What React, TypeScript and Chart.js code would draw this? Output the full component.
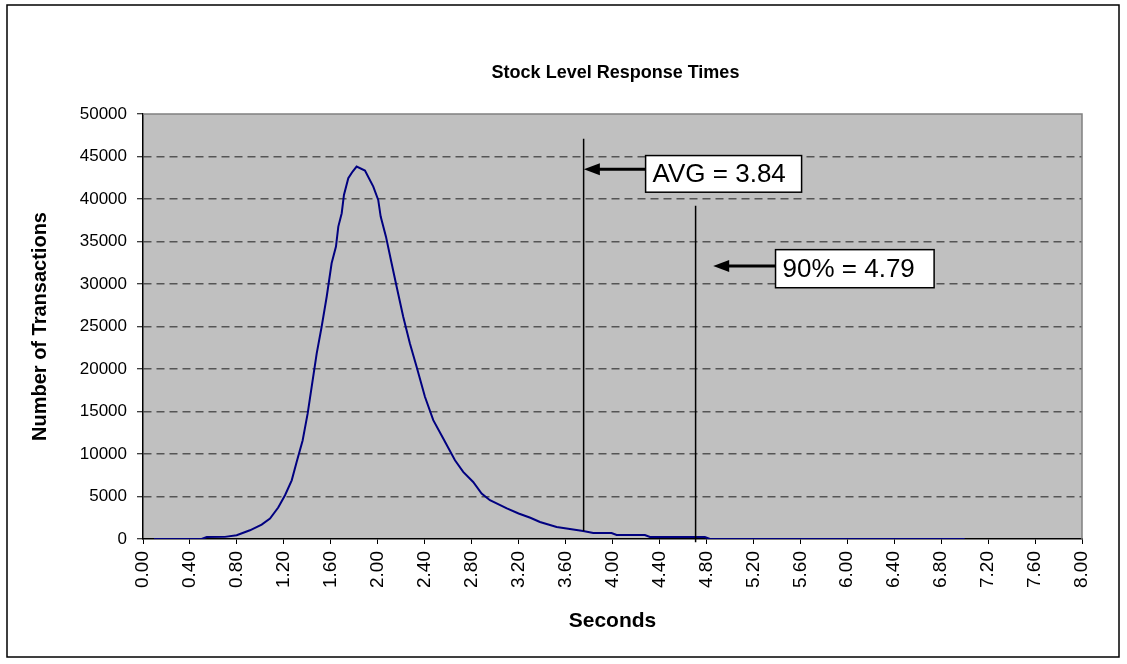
import { useEffect, useRef } from "react";
import { Chart, registerables } from "chart.js";

Chart.register(...registerables);

// ---- data ----
const chartTitle = "Stock Level Response Times";
const xAxisTitle = "Seconds";
const yAxisTitle = "Number of Transactions";

const seconds = [
  0.094, 0.5, 0.543, 0.698, 0.798, 0.911, 1.011, 1.082, 1.152, 1.21, 1.267, 1.309,
  1.36, 1.403, 1.437, 1.48, 1.522, 1.565, 1.607, 1.644, 1.664, 1.693, 1.712, 1.749,
  1.786, 1.82, 1.891, 1.962, 2.004, 2.025, 2.07, 2.118, 2.161, 2.217, 2.274, 2.331,
  2.402, 2.473, 2.558, 2.658, 2.728, 2.813, 2.885, 2.956, 3.1, 3.2, 3.3, 3.382,
  3.524, 3.75, 3.836, 3.992, 4.035, 4.276, 4.319, 4.787, 4.83, 7.0,
];
const transactions = [
  0, 0, 235, 250, 435, 1025, 1690, 2400, 3700, 5150, 6900, 9070,
  11600, 14770, 17900, 21840, 24970, 28500, 32440, 34400, 36750, 38330, 40480, 42450,
  43230, 43820, 43350, 41460, 39890, 37930, 35570, 32440, 29680, 26150, 23010, 20260,
  16730, 13980, 11820, 9270, 7890, 6710, 5350, 4560, 3600, 3000, 2500, 2000,
  1410, 940, 700, 700, 470, 470, 235, 235, 0, 0,
];

const xMin = 0;
const xMax = 8;
const xStep = 0.4;
const yMin = 0;
const yMax = 50000;
const yStep = 5000;

// annotation lines (x in seconds, y range in transactions)
const avgLabel = "AVG = 3.84";
const avgLineX = 3.754;
const avgLineYRange = [940, 47100];
const avgBoxX = [4.282, 5.611];
const avgBoxY = [40800, 45110];
const avgArrowY = 43510;
const avgArrowTipX = 3.756;

const p90Label = "90% = 4.79";
const p90LineX = 4.708;
const p90LineYRange = [-390, 39220];
const p90BoxX = [5.389, 6.74];
const p90BoxY = [29560, 34040];
const p90ArrowY = 32120;
const p90ArrowTipX = 4.858;

const FONT = "'Liberation Sans', Arial, Helvetica, sans-serif";

const framePlugin = {
  id: "frame",
  beforeDraw(chart: any) {
    const { ctx, chartArea: a, width, height } = chart;
    ctx.save();
    ctx.fillStyle = "#ffffff";
    ctx.fillRect(0, 0, width, height);
    ctx.fillStyle = "#c0c0c0";
    ctx.fillRect(a.left, a.top, a.right - a.left, a.bottom - a.top);
    ctx.strokeStyle = "#000000";
    ctx.lineWidth = 1.5;
    ctx.strokeRect(7, 5, width - 15, height - 12);
    ctx.restore();
  },
  beforeDatasetsDraw(chart: any) {
    const { ctx, chartArea: a } = chart;
    ctx.save();
    ctx.strokeStyle = "#808080";
    ctx.lineWidth = 1.5;
    ctx.beginPath();
    ctx.moveTo(a.left, a.top);
    ctx.lineTo(a.right, a.top);
    ctx.lineTo(a.right, a.bottom);
    ctx.stroke();
    ctx.restore();
  },
  afterDraw(chart: any) {
    const { ctx, chartArea: a } = chart;
    ctx.save();
    ctx.fillStyle = "#000";
    ctx.font = `bold 18px ${FONT}`;
    ctx.textAlign = "center";
    ctx.textBaseline = "middle";
    ctx.fillText(chartTitle, (a.left + a.right) / 2 + 3, 73);
    ctx.restore();
  },
};

function drawArrow(ctx: any, fromX: number, toX: number, y: number) {
  ctx.save();
  ctx.strokeStyle = "#000";
  ctx.fillStyle = "#000";
  ctx.lineWidth = 3;
  ctx.beginPath();
  ctx.moveTo(fromX, y);
  ctx.lineTo(toX + 12, y);
  ctx.stroke();
  ctx.beginPath();
  ctx.moveTo(toX, y);
  ctx.lineTo(toX + 16, y - 6);
  ctx.lineTo(toX + 16, y + 6);
  ctx.closePath();
  ctx.fill();
  ctx.restore();
}

function drawBox(ctx: any, x0: number, x1: number, y0: number, y1: number, text: string) {
  ctx.save();
  ctx.fillStyle = "#fff";
  ctx.fillRect(x0, y0, x1 - x0, y1 - y0);
  ctx.strokeStyle = "#000";
  ctx.lineWidth = 1.5;
  ctx.strokeRect(x0, y0, x1 - x0, y1 - y0);
  ctx.fillStyle = "#000";
  ctx.font = `26px ${FONT}`;
  ctx.textAlign = "left";
  ctx.textBaseline = "middle";
  ctx.fillText(text, x0 + 7, (y0 + y1) / 2 + 1);
  ctx.restore();
}

const annotationPlugin = {
  id: "annotations",
  afterDatasetsDraw(chart: any) {
    const { ctx } = chart;
    const xs = chart.scales.x;
    const ys = chart.scales.y;
    ctx.save();
    ctx.strokeStyle = "#000";
    ctx.lineWidth = 1.5;
    const lines: [number, number[]][] = [
      [avgLineX, avgLineYRange],
      [p90LineX, p90LineYRange],
    ];
    for (const [lx, r] of lines) {
      const px = xs.getPixelForValue(lx);
      ctx.beginPath();
      ctx.moveTo(px, ys.getPixelForValue(r[0]));
      ctx.lineTo(px, ys.getPixelForValue(r[1]));
      ctx.stroke();
    }
    ctx.restore();

    drawArrow(ctx, xs.getPixelForValue(avgBoxX[0]), xs.getPixelForValue(avgArrowTipX), ys.getPixelForValue(avgArrowY));
    drawBox(
      ctx,
      xs.getPixelForValue(avgBoxX[0]),
      xs.getPixelForValue(avgBoxX[1]),
      ys.getPixelForValue(avgBoxY[1]),
      ys.getPixelForValue(avgBoxY[0]),
      avgLabel
    );
    drawArrow(ctx, xs.getPixelForValue(p90BoxX[0]), xs.getPixelForValue(p90ArrowTipX), ys.getPixelForValue(p90ArrowY));
    drawBox(
      ctx,
      xs.getPixelForValue(p90BoxX[0]),
      xs.getPixelForValue(p90BoxX[1]),
      ys.getPixelForValue(p90BoxY[1]),
      ys.getPixelForValue(p90BoxY[0]),
      p90Label
    );
  },
};

export default function App() {
  const canvasRef = useRef<HTMLCanvasElement | null>(null);

  useEffect(() => {
    document.body.style.margin = "0";
    document.body.style.overflow = "hidden";
    const canvas = canvasRef.current;
    if (!canvas) return;
    const points = seconds.map((s, i) => ({ x: s, y: transactions[i] }));
    const chart = new Chart(canvas, {
      type: "line",
      data: {
        datasets: [
          {
            label: "Transactions",
            data: points,
            borderColor: "#000080",
            borderWidth: 2,
            pointRadius: 0,
            tension: 0,
            fill: false,
          },
        ],
      },
      options: {
        animation: false,
        responsive: true,
        maintainAspectRatio: false,
        devicePixelRatio: 1,
        layout: { padding: { top: 114, right: 45, left: 0, bottom: 0 } },
        plugins: {
          legend: { display: false },
          tooltip: { enabled: false },
          title: { display: false },
        },
        scales: {
          x: {
            type: "linear",
            min: xMin,
            max: xMax,
            afterFit: (scale: any) => {
              scale.height = 125;
            },
            ticks: {
              stepSize: xStep,
              autoSkip: false,
              maxRotation: 90,
              minRotation: 90,
              padding: 7,
              color: "#000",
              font: { family: FONT, size: 19 },
              callback: (v: any) => Number(v).toFixed(2),
            },
            grid: {
              drawOnChartArea: false,
              drawTicks: true,
              tickLength: 5,
              tickColor: "#000",
              tickWidth: 1,
            },
            border: { display: true, color: "#000", width: 1.5 },
            title: {
              display: true,
              text: xAxisTitle,
              color: "#000",
              font: { family: FONT, size: 21, weight: "bold" },
              padding: { top: 0, bottom: 30 },
            },
          },
          y: {
            type: "linear",
            min: yMin,
            max: yMax,
            afterFit: (scale: any) => {
              scale.width = 143;
            },
            ticks: {
              stepSize: yStep,
              padding: 10,
              color: "#000",
              font: { family: FONT, size: 17 },
              callback: (v: any) => String(v),
            },
            grid: {
              color: (ctx: any) =>
                ctx.tick && (ctx.tick.value === yMin || ctx.tick.value === yMax) ? "rgba(0,0,0,0)" : "#555555",
              lineWidth: 1.5,
              tickColor: "#000",
              tickWidth: 1,
              tickLength: 6,
              tickBorderDash: [],
            },
            border: { display: true, color: "#000", width: 1.5, dash: [8, 5] },
            title: {
              display: true,
              text: yAxisTitle,
              color: "#000",
              font: { family: FONT, size: 20, weight: "bold" },
              padding: { top: 28, bottom: 0 },
            },
          },
        },
      },
      plugins: [framePlugin, annotationPlugin],
    });
    return () => chart.destroy();
  }, []);

  return (
    <div style={{ width: "1127px", height: "664px", position: "relative" }}>
      <canvas ref={canvasRef} />
    </div>
  );
}
